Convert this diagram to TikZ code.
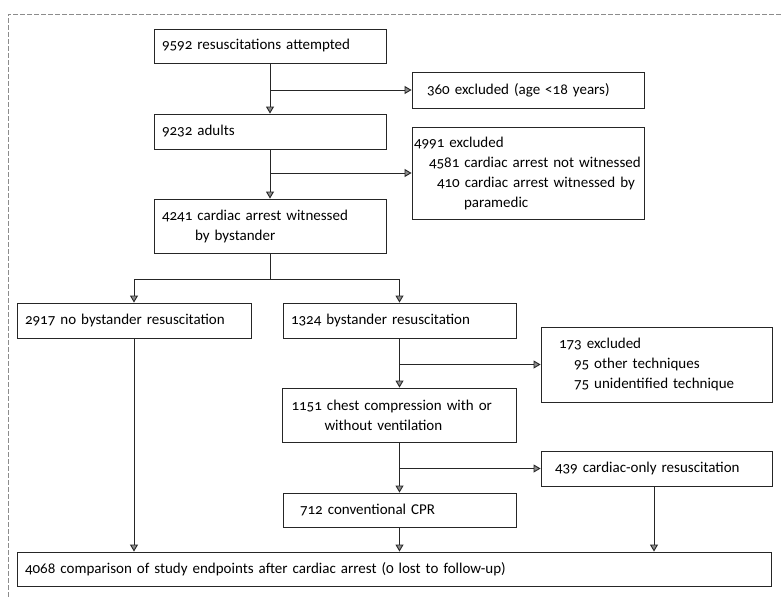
\documentclass[tikz,border=0pt]{standalone}
\usepackage{fontspec}
\setmainfont[Numbers=OldStyle]{Carlito}
\usetikzlibrary{arrows.meta}
\newcommand\myboxfont{\fontsize{15}{20}\selectfont\hyphenpenalty=10000\relax\exhyphenpenalty=10000\relax}
\begin{document}
\begin{tikzpicture}[x=1pt,y=-1pt,
  box/.style={draw=black!85, line width=0.9pt, align=left, inner ysep=0pt,
    font=\myboxfont},
  arr/.style={draw=black!85, line width=0.9pt,
    -{Triangle[length=7pt,width=8pt,fill=black!45]}},
  ln/.style={draw=black!85, line width=0.9pt},
  scan/.style={draw=black!45, line width=0.6pt, dash pattern=on 5pt off 2pt}]
\useasboundingbox (0,0) rectangle (781,597);
% scan frame
\coordinate (fa) at (8,14);
\coordinate (fb) at (781,14);
\coordinate (fc) at (8,597);
\draw[scan] (fb) -- (fa) -- (fc);
% boxes
\node[box, text width=216pt, inner xsep=8pt, minimum height=34pt] (b1) at (270,46) {9592 resuscitations attempted};
\node[box, text width=202pt, inner xsep=15pt, minimum height=36pt] (ex1) at (528,90) {360 excluded (age <18 years)};
\node[box, text width=216pt, inner xsep=8pt, minimum height=35pt] (b2) at (270,131.5) {9232 adults};
\node[box, text width=228pt, inner xsep=2pt, minimum height=92pt] (ex2) at (528,173) {4991 excluded\\\hspace*{15pt}4581 cardiac arrest not witnessed\\\hspace*{23pt}410 cardiac arrest witnessed by\\\hspace*{50pt}paramedic};
\node[box, text width=216pt, inner xsep=8pt, minimum height=54pt] (b3) at (270,226) {4241 cardiac arrest witnessed\\\hspace*{33pt}by bystander};
\node[box, text width=218pt, inner xsep=8pt, minimum height=35pt] (nob) at (134,320.5) {2917 no bystander resuscitation};
\node[box, text width=217pt, inner xsep=8pt, minimum height=35pt] (byst) at (399.5,320.5) {1324 bystander resuscitation};
\node[box, text width=195pt, inner xsep=18pt, minimum height=75pt] (ex3) at (656.5,364.5) {173 excluded\\\hspace*{15pt}95 other techniques\\\hspace*{15pt}75 unidentified technique};
\node[box, text width=216pt, inner xsep=9pt, minimum height=54pt] (chest) at (399.5,415) {1151 chest compression with or\\\hspace*{33pt}without ventilation};
\node[box, text width=203pt, inner xsep=14pt, minimum height=35pt] (only) at (656.5,468.5) {439 cardiac-only resuscitation};
\node[box, text width=199pt, inner xsep=17pt, minimum height=34pt] (conv) at (399.5,510) {712 conventional CPR};
\node[box, text width=738pt, inner xsep=8pt, minimum height=34pt] (final) at (394,569) {4068 comparison of study endpoints after cardiac arrest (0 lost to follow-up)};
% connectors
\draw[arr] (b1) -- (b2);
\draw[arr] (ex1.west -| b1.south) -- (ex1.west);
\draw[arr] (b2) -- (b3);
\draw[arr] (ex2.west -| b2.south) -- (ex2.west);
\draw[ln] (b3.south) -- ++(0,26) coordinate (split);
\draw[arr] (split) -| (nob.north);
\draw[arr] (split) -| (byst.north);
\draw[arr] (byst) -- (chest);
\draw[arr] (ex3.west -| byst.south) -- (ex3.west);
\draw[arr] (chest) -- (conv);
\draw[arr] (only.west -| chest.south) -- (only.west);
\draw[arr] (conv) -- (conv |- final.north);
\draw[arr] (nob) -- (nob |- final.north);
\draw[arr] (only.south -| 654,0) -- (final.north -| 654,0);
\end{tikzpicture}
\end{document}
